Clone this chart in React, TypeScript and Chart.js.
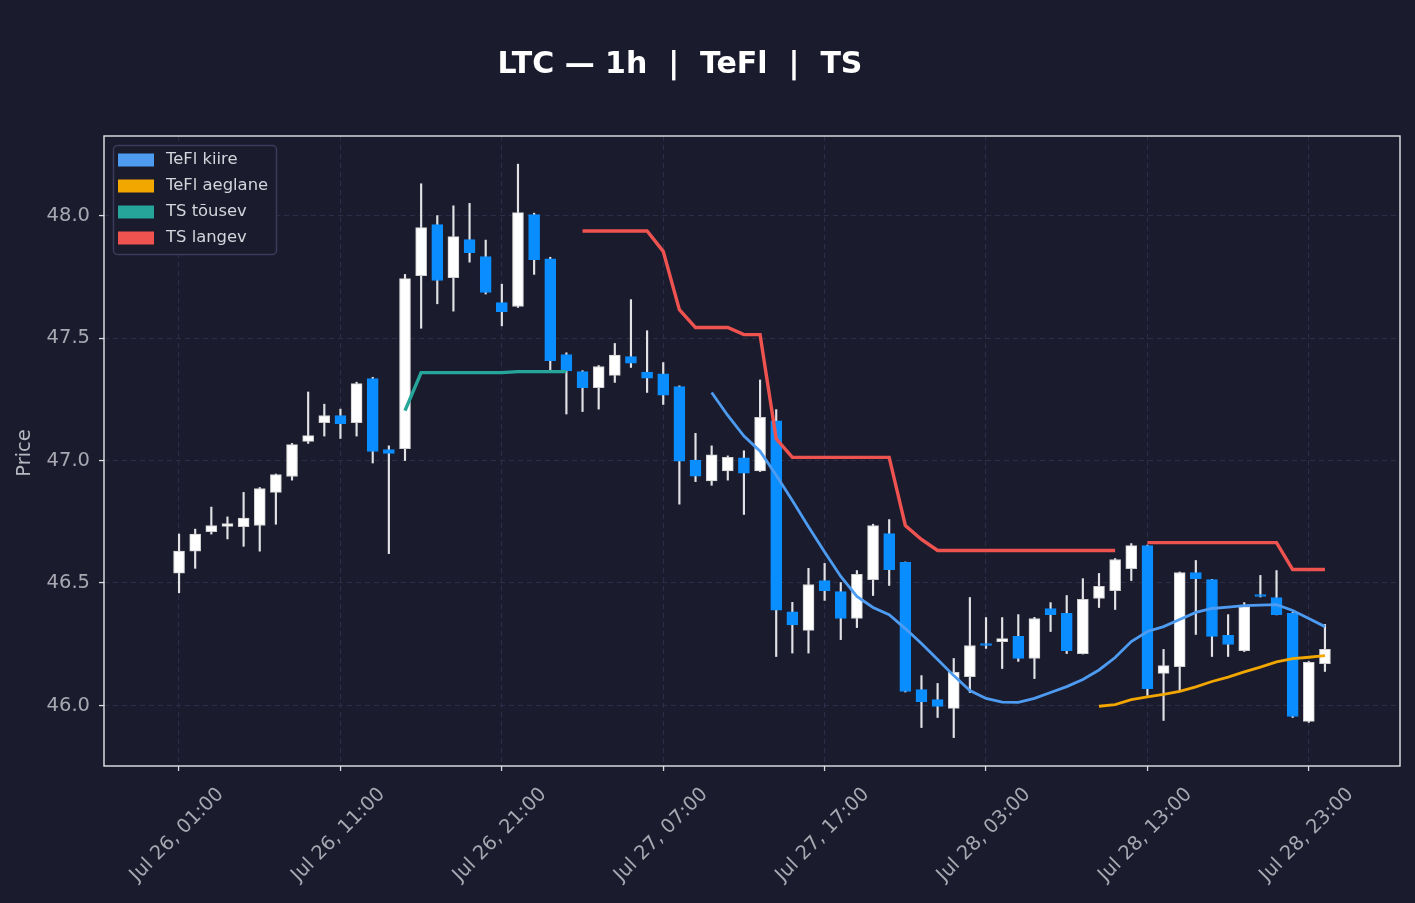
import React, { useEffect, useRef } from "react";
import { Chart, registerables } from "chart.js";

Chart.register(...registerables);

const N = null;
const BG = "#1b1b2e";
const GRID = "#2d2d4a";

const xTickPositions = [0, 10, 20, 30, 40, 50, 60, 70];
const xTickLabels = [
  "Jul 26, 01:00",
  "Jul 26, 11:00",
  "Jul 26, 21:00",
  "Jul 27, 07:00",
  "Jul 27, 17:00",
  "Jul 28, 03:00",
  "Jul 28, 13:00",
  "Jul 28, 23:00",
];
const yTicks = [46.0, 46.5, 47.0, 47.5, 48.0];

const open = [
  46.54, 46.63, 46.71, 46.731, 46.73, 46.735, 46.87, 46.935, 47.078, 47.155,
  47.184, 47.155, 47.335, 47.045, 47.049, 47.755, 47.963, 47.747, 47.902, 47.833,
  47.645, 47.629, 48.004, 47.824, 47.433, 47.363, 47.298, 47.348, 47.424, 47.361,
  47.354, 47.302, 47.002, 46.917, 46.958, 47.011, 46.958, 47.162, 46.382, 46.307,
  46.51, 46.465, 46.355, 46.514, 46.702, 46.584, 46.065, 46.024, 45.988, 46.118,
  46.253, 46.261, 46.282, 46.192, 46.396, 46.376, 46.212, 46.437, 46.469, 46.559,
  46.653, 46.131, 46.159, 46.543, 46.514, 46.286, 46.224, 46.453, 46.441, 46.376,
  45.935, 46.171,
];
const high = [
  46.70, 46.72, 46.81, 46.77, 46.87, 46.89, 46.945, 47.07, 47.28, 47.23,
  47.21, 47.32, 47.34, 47.06, 47.76, 48.13, 48.00, 48.04, 48.05, 47.90,
  47.72, 48.21, 48.01, 47.83, 47.44, 47.367, 47.388, 47.478, 47.657, 47.53,
  47.40, 47.305, 47.111, 47.06, 47.019, 47.04, 47.329, 47.208, 46.421, 46.56,
  46.58, 46.502, 46.551, 46.74, 46.759, 46.586, 46.122, 46.09, 46.192, 46.441,
  46.359, 46.359, 46.371, 46.36, 46.42, 46.449, 46.518, 46.539, 46.60, 46.661,
  46.655, 46.229, 46.545, 46.592, 46.515, 46.371, 46.42, 46.531, 46.551, 46.38,
  46.18, 46.331,
];
const low = [
  46.46, 46.56, 46.70, 46.68, 46.65, 46.63, 46.74, 46.92, 47.07, 47.10,
  47.09, 47.10, 46.99, 46.62, 47.00, 47.54, 47.64, 47.61, 47.81, 47.68,
  47.55, 47.625, 47.76, 47.37, 47.19, 47.20, 47.21, 47.319, 47.38, 47.278,
  47.229, 46.822, 46.914, 46.899, 46.92, 46.78, 46.955, 46.20, 46.214, 46.214,
  46.429, 46.269, 46.318, 46.449, 46.49, 46.055, 45.91, 45.951, 45.869, 46.053,
  46.233, 46.151, 46.18, 46.11, 46.302, 46.212, 46.21, 46.40, 46.392, 46.51,
  46.041, 45.939, 46.061, 46.29, 46.20, 46.20, 46.22, 46.443, 46.37, 45.951,
  45.931, 46.139,
];
const close = [
  46.63, 46.70, 46.735, 46.743, 46.765, 46.886, 46.943, 47.065, 47.102, 47.184,
  47.151, 47.314, 47.037, 47.029, 47.743, 47.951, 47.735, 47.914, 47.849, 47.686,
  47.608, 48.012, 47.82, 47.408, 47.367, 47.298, 47.384, 47.431, 47.398, 47.336,
  47.267, 46.997, 46.936, 47.023, 47.013, 46.949, 47.176, 46.389, 46.329, 46.494,
  46.469, 46.355, 46.535, 46.735, 46.555, 46.057, 46.016, 45.996, 46.135, 46.245,
  46.245, 46.273, 46.192, 46.355, 46.371, 46.224, 46.433, 46.486, 46.596, 46.653,
  46.069, 46.163, 46.543, 46.518, 46.282, 46.249, 46.404, 46.445, 46.371, 45.955,
  46.176, 46.229,
];

const tefKiire = [
  N, N, N, N, N, N, N, N, N, N,
  N, N, N, N, N, N, N, N, N, N,
  N, N, N, N, N, N, N, N, N, N,
  N, N, N, 47.278, 47.184, 47.1, 47.038, 46.94, 46.837, 46.73,
  46.627, 46.527, 46.445, 46.4, 46.371, 46.314, 46.253, 46.188, 46.122, 46.061,
  46.029, 46.014, 46.013, 46.029, 46.053, 46.077, 46.106, 46.145, 46.196, 46.261,
  46.302, 46.322, 46.351, 46.38, 46.396, 46.402, 46.408, 46.41, 46.412, 46.388,
  46.355, 46.322,
];
const tefAeglane = [
  N, N, N, N, N, N, N, N, N, N,
  N, N, N, N, N, N, N, N, N, N,
  N, N, N, N, N, N, N, N, N, N,
  N, N, N, N, N, N, N, N, N, N,
  N, N, N, N, N, N, N, N, N, N,
  N, N, N, N, N, N, N, 45.997, 46.004, 46.024,
  46.035, 46.045, 46.058, 46.076, 46.098, 46.116, 46.137, 46.157, 46.178, 46.191,
  46.197, 46.204,
];
const tsTousev = [
  N, N, N, N, N, N, N, N, N, N,
  N, N, N, N, 47.204, 47.359, 47.359, 47.359, 47.359, 47.359,
  47.359, 47.363, 47.363, 47.363, 47.363, N, N, N, N, N,
  N, N, N, N, N, N, N, N, N, N,
  N, N, N, N, N, N, N, N, N, N,
  N, N, N, N, N, N, N, N, N, N,
  N, N, N, N, N, N, N, N, N, N,
  N, N,
];
const tsLangev = [
  N, N, N, N, N, N, N, N, N, N,
  N, N, N, N, N, N, N, N, N, N,
  N, N, N, N, N, 47.937, 47.937, 47.937, 47.937, 47.937,
  47.854, 47.616, 47.543, 47.543, 47.543, 47.514, 47.514, 47.089, 47.013, 47.013,
  47.013, 47.013, 47.013, 47.013, 47.013, 46.735, 46.678, 46.633, 46.633, 46.633,
  46.633, 46.633, 46.633, 46.633, 46.633, 46.633, 46.633, 46.633, 46.633, N,
  46.665, 46.665, 46.665, 46.665, 46.665, 46.665, 46.665, 46.665, 46.665, 46.555,
  46.555, 46.555,
];

const legendItems = [
  { label: "TeFl kiire", color: "#4d9cf2" },
  { label: "TeFl aeglane", color: "#f2a600" },
  { label: "TS tõusev", color: "#26a69a" },
  { label: "TS langev", color: "#ef5350" },
];

const UP_COLOR = "#ffffff";
const DOWN_COLOR = "#0a8eff";

export default function App() {
  const ref = useRef<HTMLCanvasElement>(null);

  useEffect(() => {
    document.body.style.margin = "0";
    document.body.style.background = BG;
    const idx = open.map((_, i) => i);
    const up = idx.map((i) => close[i] >= open[i]);
    const lineDs = (label: string, values: (number | null)[], color: string, width: number) => ({
      type: "line" as const,
      label,
      data: idx.map((i) => ({ x: i, y: values[i] })),
      borderColor: color,
      backgroundColor: color,
      borderWidth: width,
      pointRadius: 0,
      spanGaps: false,
      tension: 0,
      order: 0,
    });

    const customPlugin = {
      id: "custom",
      beforeDraw(chart: any) {
        const ctx = chart.ctx;
        ctx.save();
        ctx.fillStyle = BG;
        ctx.fillRect(0, 0, chart.width, chart.height);
        ctx.restore();
      },
      afterDraw(chart: any) {
        const ctx = chart.ctx;
        const a = chart.chartArea;
        ctx.save();
        // frame
        ctx.strokeStyle = "#e4e4e8";
        ctx.lineWidth = 1.4;
        ctx.strokeRect(a.left, a.top, a.right - a.left, a.bottom - a.top);

        // x tick labels
        ctx.fillStyle = "#a8a8b2";
        ctx.font = "19.5px 'DejaVu Sans'";
        ctx.textAlign = "center";
        ctx.textBaseline = "middle";
        xTickPositions.forEach((p, k) => {
          const x = chart.scales.x.getPixelForValue(p);
          ctx.save();
          ctx.translate(x - 2, 835);
          ctx.rotate(-Math.PI / 4);
          ctx.fillText(xTickLabels[k], 0, 0);
          ctx.restore();
        });

        // y axis title
        ctx.save();
        ctx.fillStyle = "#b8b8c2";
        ctx.font = "19.5px 'DejaVu Sans'";
        ctx.translate(25, 453);
        ctx.rotate(-Math.PI / 2);
        ctx.textAlign = "center";
        ctx.textBaseline = "middle";
        ctx.fillText("Price", 0, 0);
        ctx.restore();

        // title
        ctx.fillStyle = "#ffffff";
        ctx.font = "bold 30px 'DejaVu Sans'";
        ctx.textAlign = "center";
        ctx.textBaseline = "alphabetic";
        ctx.fillText("LTC — 1h  |  TeFl  |  TS", 680, 73);

        // legend
        ctx.beginPath();
        ctx.roundRect(113.5, 145.5, 163, 109, 4);
        ctx.fillStyle = BG;
        ctx.fill();
        ctx.strokeStyle = "#3b3b5c";
        ctx.lineWidth = 1.5;
        ctx.stroke();
        ctx.font = "16.4px 'DejaVu Sans'";
        ctx.textAlign = "left";
        ctx.textBaseline = "middle";
        legendItems.forEach((it, k) => {
          const cy = 160 + k * 26;
          ctx.fillStyle = it.color;
          ctx.fillRect(118, cy - 6.5, 36, 13);
          ctx.fillStyle = "#d4d4dc";
          ctx.fillText(it.label, 166, cy);
        });
        ctx.restore();
      },
    };

    const chart = new Chart(ref.current as HTMLCanvasElement, {
      type: "bar",
      data: {
        datasets: [
          lineDs("TeFl kiire", tefKiire, "#4d9cf2", 2.8),
          lineDs("TeFl aeglane", tefAeglane, "#f2a600", 2.8),
          lineDs("TS tõusev", tsTousev, "#26a69a", 3.4),
          lineDs("TS langev", tsLangev, "#ef5350", 3.4),
          {
            type: "bar",
            label: "body",
            data: idx.map((i) => ({ x: i, y: [open[i], close[i]] })),
            backgroundColor: up.map((u) => (u ? UP_COLOR : DOWN_COLOR)),
            borderColor: up.map((u) => (u ? "#cfcfcf" : DOWN_COLOR)),
            borderWidth: 1,
            borderSkipped: false,
            barThickness: 11,
            grouped: false,
            order: 5,
          } as any,
          {
            type: "bar",
            label: "wick",
            data: idx.map((i) => ({ x: i, y: [low[i], high[i]] })),
            backgroundColor: "#e2e2e6",
            borderWidth: 0,
            barThickness: 1.5,
            grouped: false,
            order: 6,
          } as any,
        ],
      },
      options: {
        animation: false,
        responsive: false,
        devicePixelRatio: 1,
        layout: { padding: { left: 0, top: 136, right: 15, bottom: 0 } },
        plugins: {
          legend: { display: false },
          tooltip: { enabled: false },
          title: { display: false },
        },
        scales: {
          x: {
            type: "linear",
            min: -4.65,
            max: 75.65,
            offset: false,
            afterBuildTicks: (s: any) => {
              s.ticks = xTickPositions.map((v) => ({ value: v }));
            },
            afterFit: (s: any) => {
              s.height = 137;
            },
            ticks: { display: false },
            grid: {
              color: GRID,
              lineWidth: 1.1,
              offset: false,
              drawTicks: true,
              tickLength: 5,
              tickColor: "#d8d8dc",
              tickWidth: 1.3,
              tickBorderDash: [],
            },
            border: { display: false, dash: [5, 4] },
          },
          y: {
            type: "linear",
            min: 45.753,
            max: 48.325,
            afterBuildTicks: (s: any) => {
              s.ticks = yTicks.map((v) => ({ value: v }));
            },
            afterFit: (s: any) => {
              s.width = 104;
            },
            ticks: {
              color: "#a8a8b2",
              font: { family: "'DejaVu Sans'", size: 19.5 },
              padding: 9,
              callback: (v: any) => Number(v).toFixed(1),
            },
            grid: {
              color: GRID,
              lineWidth: 1.1,
              drawTicks: true,
              tickLength: 5,
              tickColor: "#d8d8dc",
              tickWidth: 1.3,
              tickBorderDash: [],
            },
            border: { display: false, dash: [5, 4] },
          },
        },
      } as any,
      plugins: [customPlugin],
    });
    return () => chart.destroy();
  }, []);

  return (
    <div style={{ position: "fixed", left: 0, top: 0, width: 1415, height: 903, background: BG }}>
      <canvas ref={ref} width={1415} height={903} style={{ display: "block", width: 1415, height: 903 }} />
    </div>
  );
}
